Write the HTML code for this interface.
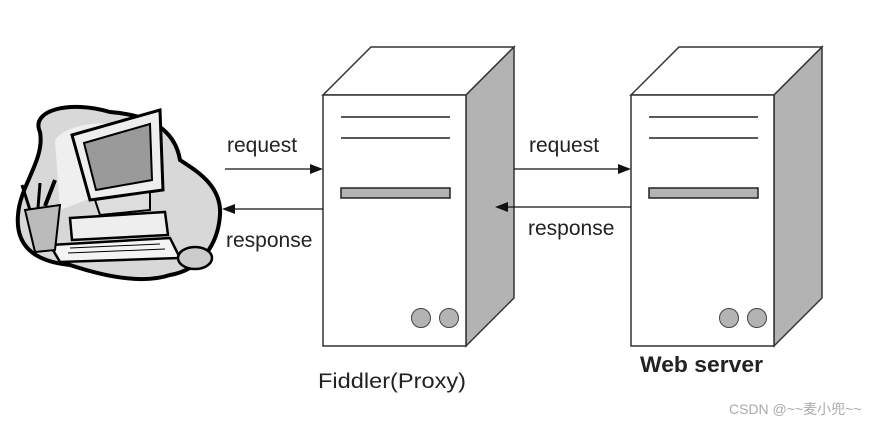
<!DOCTYPE html>
<html><head><meta charset="utf-8"><style>
html,body{margin:0;padding:0;background:#fff;}
svg{display:block}
text{font-family:"Liberation Sans",Arial,sans-serif;}
</style></head><body>
<svg width="886" height="422" viewBox="0 0 886 422" xmlns="http://www.w3.org/2000/svg">
<defs>
<g id="srv">
  <polygon points="0,48 48,0 191,0 143,48" fill="#fff" stroke="#333" stroke-width="1.5"/>
  <polygon points="143,48 191,0 191,251 143,299" fill="#b3b3b3" stroke="#333" stroke-width="1.5"/>
  <rect x="0" y="48" width="143" height="251" fill="#fff" stroke="#333" stroke-width="1.5"/>
  <line x1="18" y1="70" x2="127" y2="70" stroke="#222" stroke-width="1.5"/>
  <line x1="18" y1="91" x2="127" y2="91" stroke="#222" stroke-width="1.5"/>
  <rect x="18" y="141" width="109" height="10" fill="#b3b3b3" stroke="#222" stroke-width="1.5"/>
  <circle cx="98" cy="271" r="9.5" fill="#b3b3b3" stroke="#444" stroke-width="1"/>
  <circle cx="126" cy="271" r="9.5" fill="#b3b3b3" stroke="#444" stroke-width="1"/>
</g>
</defs>
<use href="#srv" x="323" y="47"/>
<use href="#srv" x="631" y="47"/>

<!-- computer clipart -->
<path d="M40,132 C30,110 70,100 110,112 C150,115 175,130 180,160 C195,170 222,185 220,215 C218,245 200,270 170,275 C140,285 100,275 70,265 C40,262 15,250 18,215 C20,185 45,160 40,132 Z" fill="#d8d8d8" stroke="#000" stroke-width="4"/>
<path d="M55,140 C70,120 120,118 150,135 L140,180 L60,210 Z" fill="#efefef"/>
<polygon points="72,135 160,110 163,190 90,200" fill="#eee" stroke="#000" stroke-width="3"/>
<polygon points="84,143 150,124 152,180 96,190" fill="#9a9a9a" stroke="#000" stroke-width="2"/>
<polygon points="95,200 150,192 150,210 100,215" fill="#ddd" stroke="#000" stroke-width="2"/>
<polygon points="70,218 165,212 168,235 72,240" fill="#eee" stroke="#000" stroke-width="2.5"/>
<polygon points="50,245 170,238 180,258 60,262" fill="#f4f4f4" stroke="#000" stroke-width="2.5"/>
<line x1="70" y1="248" x2="160" y2="244" stroke="#000"/>
<line x1="68" y1="253" x2="165" y2="249" stroke="#000"/>
<polygon points="25,210 60,205 55,250 35,252" fill="#bbb" stroke="#000" stroke-width="2"/>
<line x1="30" y1="210" x2="22" y2="185" stroke="#000" stroke-width="3"/>
<line x1="45" y1="206" x2="55" y2="180" stroke="#000" stroke-width="4"/>
<line x1="38" y1="208" x2="40" y2="183" stroke="#000" stroke-width="3"/>
<ellipse cx="195" cy="258" rx="17" ry="11" fill="#ccc" stroke="#000" stroke-width="2.5"/>

<!-- arrows -->
<g stroke="#111" stroke-width="1.3" fill="#111">
<line x1="225" y1="169" x2="314" y2="169"/><polygon points="323,169 310,164 310,174" stroke="none"/>
<line x1="232" y1="209" x2="323" y2="209"/><polygon points="222,209 235,204 235,214" stroke="none"/>
<line x1="514" y1="169" x2="622" y2="169"/><polygon points="631,169 618,164 618,174" stroke="none"/>
<line x1="505" y1="207" x2="631" y2="207"/><polygon points="495,207 508,202 508,212" stroke="none"/>
</g>
<g font-size="21" fill="#222">
<text x="227" y="152">request</text>
<text x="226" y="247">response</text>
<text x="529" y="152">request</text>
<text x="528" y="235">response</text>
<text x="318" y="388" font-size="21" textLength="148" lengthAdjust="spacingAndGlyphs">Fiddler(Proxy)</text>
<text x="640" y="372" font-size="22" font-weight="bold" textLength="123" lengthAdjust="spacingAndGlyphs">Web server</text>
</g>
<text x="729" y="414" font-size="14" fill="#aaa" style='font-family:"Liberation Sans","Noto Sans CJK SC",sans-serif'>CSDN @~~麦小兜~~</text>
</svg>
</body></html>
